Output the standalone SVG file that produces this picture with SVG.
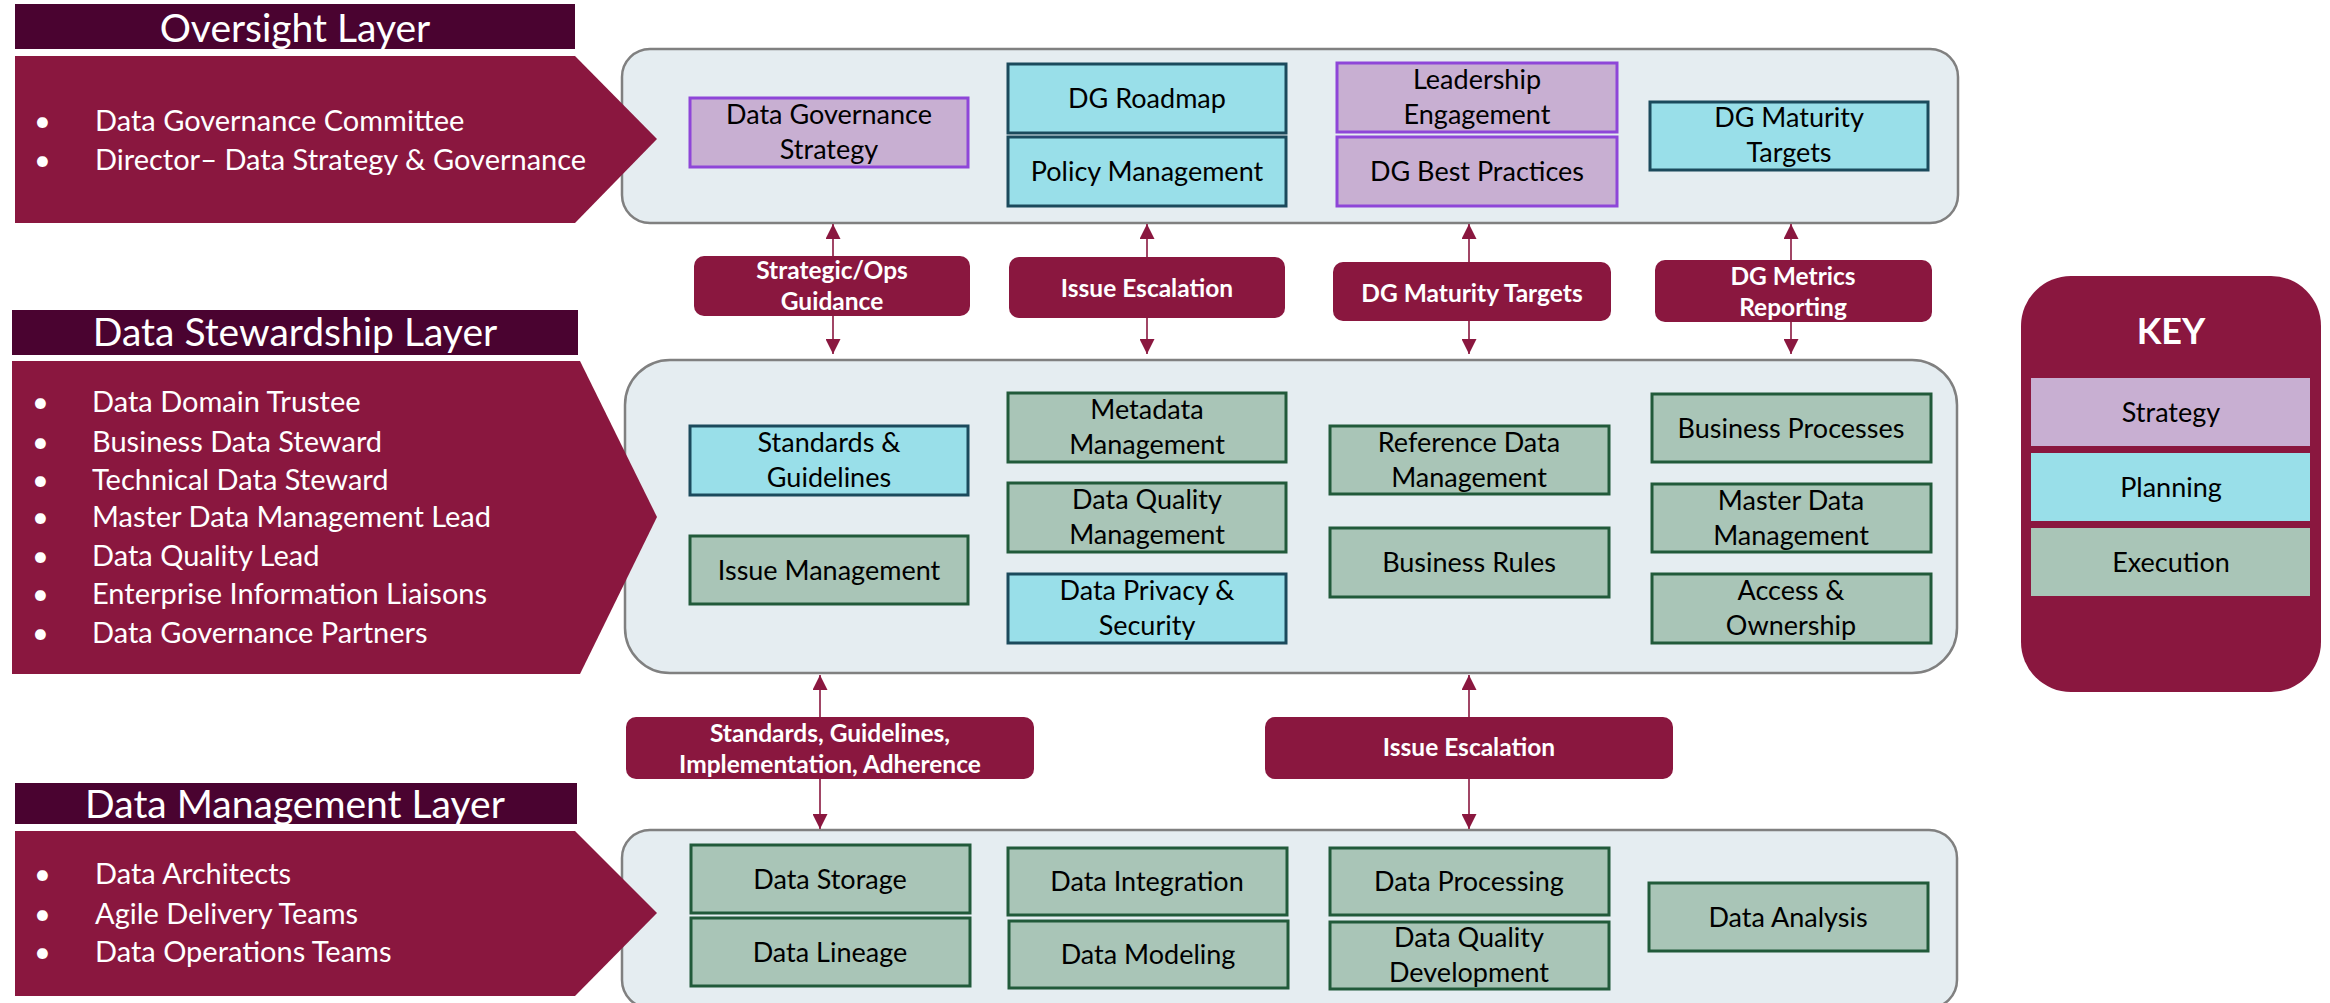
<svg xmlns="http://www.w3.org/2000/svg" width="2330" height="1003" viewBox="0 0 2330 1003">
<defs>
<style>
.hdr{fill:#4a0330}
.chev{fill:#8a173f}
.htxt{font-family:Lato,"Open Sans",sans-serif;font-size:39px;fill:#fff;text-anchor:middle}
.btxt{font-family:Lato,"Open Sans",sans-serif;font-size:29px;fill:#fff}
.panel{fill:#e5edf1;stroke:#808080;stroke-width:2.5}
.strat{fill:#c8afd2;stroke:#8e46d8;stroke-width:3}
.plan{fill:#99dfe9;stroke:#1b4a5c;stroke-width:3}
.exec{fill:#a9c5b7;stroke:#215a3a;stroke-width:3}
.t{font-family:Lato,"Open Sans",sans-serif;font-size:27px;fill:#000;text-anchor:middle}
.lbl{fill:#8a173f}
.lt{font-family:Lato,"Open Sans",sans-serif;font-size:24.5px;font-weight:bold;fill:#fff;text-anchor:middle}
.conn line{stroke:#8a173f;stroke-width:1.6;marker-end:url(#ah)}
.key{fill:#8a173f}
.kt{font-family:Lato,"Open Sans",sans-serif;font-size:27px;fill:#000;text-anchor:middle}
</style>
<marker id="ah" viewBox="0 0 15 15" refX="15" refY="7.5" markerWidth="15" markerHeight="15" markerUnits="userSpaceOnUse" orient="auto">
<path d="M0,0 L15,7.5 L0,15 z" fill="#8a173f"/>
</marker>
</defs>
<rect width="2330" height="1003" fill="#fff"/>

<!-- Panels -->
<g id="oversight-panel"><rect class="panel" x="622" y="49" width="1336" height="174" rx="28"/></g>
<g id="stewardship-panel"><rect class="panel" x="625" y="360" width="1332" height="313" rx="45"/></g>
<g id="dm-panel"><rect class="panel" x="622" y="830" width="1335" height="178" rx="28"/></g>

<!-- Oversight layer -->
<g id="oversight-header">
<rect class="hdr" x="15" y="4" width="560" height="45"/>
<text class="htxt" x="295" y="42">Oversight Layer</text>
</g>
<g id="oversight-roles">
<polygon class="chev" points="15,56 575,56 657,139 575,223 15,223"/>
<text class="btxt" x="34" y="131">•</text><text class="btxt" x="95" y="131">Data Governance Committee</text>
<text class="btxt" x="34" y="170">•</text><text class="btxt" x="95" y="170">Director– Data Strategy &amp; Governance</text>
</g>
<g id="n-dg-strategy"><rect class="strat" x="690" y="98" width="278" height="69"/><text class="t" x="829" y="124">Data Governance</text><text class="t" x="829" y="159">Strategy</text></g>
<g id="n-dg-roadmap"><rect class="plan" x="1008" y="64" width="278" height="69"/><text class="t" x="1147" y="108">DG Roadmap</text></g>
<g id="n-policy"><rect class="plan" x="1008" y="137" width="278" height="69"/><text class="t" x="1147" y="181">Policy Management</text></g>
<g id="n-leadership"><rect class="strat" x="1337" y="63" width="280" height="69"/><text class="t" x="1477" y="89">Leadership</text><text class="t" x="1477" y="124">Engagement</text></g>
<g id="n-best-practices"><rect class="strat" x="1337" y="137" width="280" height="69"/><text class="t" x="1477" y="181">DG Best Practices</text></g>
<g id="n-maturity"><rect class="plan" x="1650" y="102" width="278" height="68"/><text class="t" x="1789" y="127">DG Maturity</text><text class="t" x="1789" y="162">Targets</text></g>

<!-- Stewardship layer -->
<g id="stewardship-header">
<rect class="hdr" x="12" y="310" width="566" height="45"/>
<text class="htxt" x="295" y="346">Data Stewardship Layer</text>
</g>
<g id="stewardship-roles">
<polygon class="chev" points="12,361 580,361 657,517 580,674 12,674"/>
<text class="btxt" x="32" y="412">•</text><text class="btxt" x="92" y="412">Data Domain Trustee</text>
<text class="btxt" x="32" y="452">•</text><text class="btxt" x="92" y="452">Business Data Steward</text>
<text class="btxt" x="32" y="490">•</text><text class="btxt" x="92" y="490">Technical Data Steward</text>
<text class="btxt" x="32" y="527">•</text><text class="btxt" x="92" y="527">Master Data Management Lead</text>
<text class="btxt" x="32" y="566">•</text><text class="btxt" x="92" y="566">Data Quality Lead</text>
<text class="btxt" x="32" y="604">•</text><text class="btxt" x="92" y="604">Enterprise Information Liaisons</text>
<text class="btxt" x="32" y="643">•</text><text class="btxt" x="92" y="643">Data Governance Partners</text>
</g>
<g id="n-standards"><rect class="plan" x="690" y="426" width="278" height="69"/><text class="t" x="829" y="452">Standards &amp;</text><text class="t" x="829" y="487">Guidelines</text></g>
<g id="n-issue-mgmt"><rect class="exec" x="690" y="536" width="278" height="68"/><text class="t" x="829" y="580">Issue Management</text></g>
<g id="n-metadata"><rect class="exec" x="1008" y="393" width="278" height="69"/><text class="t" x="1147" y="419">Metadata</text><text class="t" x="1147" y="454">Management</text></g>
<g id="n-dq-mgmt"><rect class="exec" x="1008" y="483" width="278" height="69"/><text class="t" x="1147" y="509">Data Quality</text><text class="t" x="1147" y="544">Management</text></g>
<g id="n-privacy"><rect class="plan" x="1008" y="574" width="278" height="69"/><text class="t" x="1147" y="600">Data Privacy &amp;</text><text class="t" x="1147" y="635">Security</text></g>
<g id="n-reference"><rect class="exec" x="1330" y="426" width="279" height="68"/><text class="t" x="1469" y="452">Reference Data</text><text class="t" x="1469" y="487">Management</text></g>
<g id="n-rules"><rect class="exec" x="1330" y="528" width="279" height="69"/><text class="t" x="1469" y="572">Business Rules</text></g>
<g id="n-processes"><rect class="exec" x="1652" y="394" width="279" height="68"/><text class="t" x="1791" y="438">Business Processes</text></g>
<g id="n-mdm"><rect class="exec" x="1652" y="484" width="279" height="68"/><text class="t" x="1791" y="510">Master Data</text><text class="t" x="1791" y="545">Management</text></g>
<g id="n-access"><rect class="exec" x="1652" y="574" width="279" height="69"/><text class="t" x="1791" y="600">Access &amp;</text><text class="t" x="1791" y="635">Ownership</text></g>

<!-- Data management layer -->
<g id="dm-header">
<rect class="hdr" x="15" y="783" width="562" height="41"/>
<text class="htxt" x="295" y="818">Data Management Layer</text>
</g>
<g id="dm-roles">
<polygon class="chev" points="15,831 575,831 657,913 575,996 15,996"/>
<text class="btxt" x="34" y="884">•</text><text class="btxt" x="95" y="884">Data Architects</text>
<text class="btxt" x="34" y="924">•</text><text class="btxt" x="95" y="924">Agile Delivery Teams</text>
<text class="btxt" x="34" y="962">•</text><text class="btxt" x="95" y="962">Data Operations Teams</text>
</g>
<g id="n-storage"><rect class="exec" x="691" y="845" width="279" height="68"/><text class="t" x="830" y="889">Data Storage</text></g>
<g id="n-lineage"><rect class="exec" x="691" y="918" width="279" height="68"/><text class="t" x="830" y="962">Data Lineage</text></g>
<g id="n-integration"><rect class="exec" x="1008" y="848" width="279" height="67"/><text class="t" x="1147" y="891">Data Integration</text></g>
<g id="n-modeling"><rect class="exec" x="1009" y="921" width="279" height="67"/><text class="t" x="1148" y="964">Data Modeling</text></g>
<g id="n-processing"><rect class="exec" x="1330" y="848" width="279" height="67"/><text class="t" x="1469" y="891">Data Processing</text></g>
<g id="n-dq-dev"><rect class="exec" x="1330" y="922" width="279" height="67"/><text class="t" x="1469" y="947">Data Quality</text><text class="t" x="1469" y="982">Development</text></g>
<g id="n-analysis"><rect class="exec" x="1649" y="883" width="279" height="68"/><text class="t" x="1788" y="927">Data Analysis</text></g>

<!-- Connectors -->
<g id="connectors" class="conn">
<line x1="833" y1="256" x2="833" y2="224"/><line x1="833" y1="316" x2="833" y2="354"/>
<line x1="1147" y1="257" x2="1147" y2="224"/><line x1="1147" y1="318" x2="1147" y2="354"/>
<line x1="1469" y1="262" x2="1469" y2="224"/><line x1="1469" y1="321" x2="1469" y2="354"/>
<line x1="1791" y1="260" x2="1791" y2="224"/><line x1="1791" y1="322" x2="1791" y2="354"/>
<line x1="820" y1="717" x2="820" y2="675"/><line x1="820" y1="779" x2="820" y2="829"/>
<line x1="1469" y1="717" x2="1469" y2="675"/><line x1="1469" y1="779" x2="1469" y2="829"/>
</g>

<g id="l-strategic"><rect class="lbl" x="694" y="256" width="276" height="60" rx="10"/><text class="lt" x="832" y="279">Strategic/Ops</text><text class="lt" x="832" y="310">Guidance</text></g>
<g id="l-issue-top"><rect class="lbl" x="1009" y="257" width="276" height="61" rx="10"/><text class="lt" x="1147" y="297">Issue Escalation</text></g>
<g id="l-maturity"><rect class="lbl" x="1333" y="262" width="278" height="59" rx="10"/><text class="lt" x="1472" y="302">DG Maturity Targets</text></g>
<g id="l-metrics"><rect class="lbl" x="1655" y="260" width="277" height="62" rx="10"/><text class="lt" x="1793" y="285">DG Metrics</text><text class="lt" x="1793" y="316">Reporting</text></g>
<g id="l-standards"><rect class="lbl" x="626" y="717" width="408" height="62" rx="10"/><text class="lt" x="830" y="742">Standards, Guidelines,</text><text class="lt" x="830" y="773">Implementation, Adherence</text></g>
<g id="l-issue-bottom"><rect class="lbl" x="1265" y="717" width="408" height="62" rx="10"/><text class="lt" x="1469" y="756">Issue Escalation</text></g>

<!-- Key -->
<g id="key">
<rect class="key" x="2021" y="276" width="300" height="416" rx="50"/>
<text x="2171" y="344" font-family="Lato,'Open Sans',sans-serif" font-size="36" font-weight="bold" fill="#fff" text-anchor="middle">KEY</text>
<rect x="2031" y="378" width="279" height="68" fill="#c8afd2"/><text class="kt" x="2171" y="422">Strategy</text>
<rect x="2031" y="453" width="279" height="68" fill="#99dfe9"/><text class="kt" x="2171" y="497">Planning</text>
<rect x="2031" y="528" width="279" height="68" fill="#a9c5b7"/><text class="kt" x="2171" y="572">Execution</text>
</g>
</svg>
